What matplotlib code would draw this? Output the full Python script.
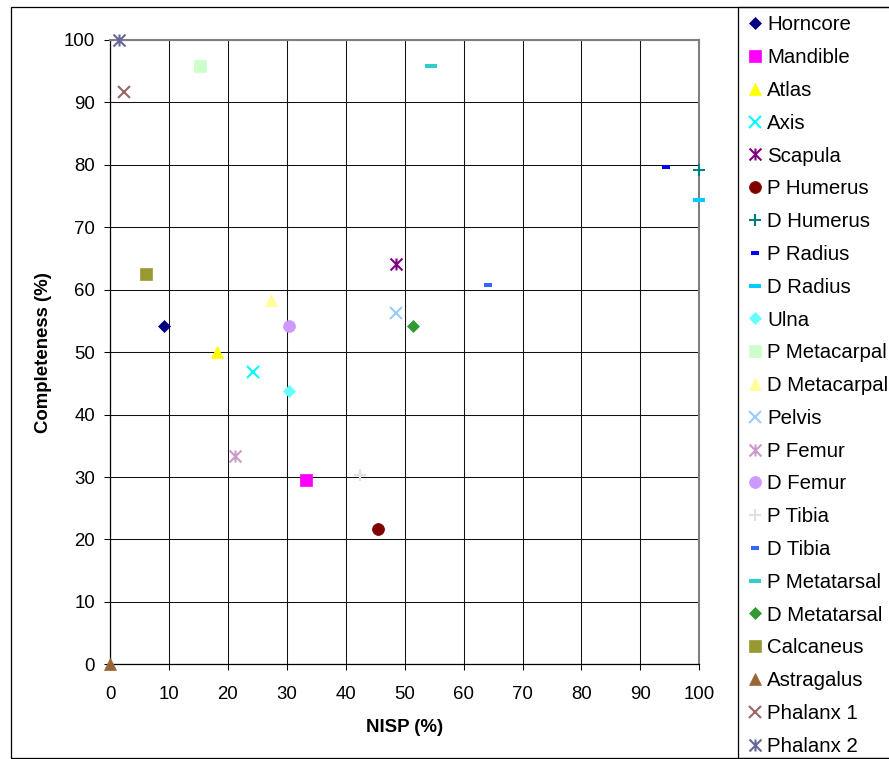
import matplotlib
matplotlib.use("Agg")
import matplotlib.pyplot as plt
from matplotlib.path import Path
from matplotlib.patches import Rectangle

# skeletal elements: NISP share vs completeness
elements = ["Horncore", "Mandible", "Atlas", "Axis", "Scapula", "P Humerus",
            "D Humerus", "P Radius", "D Radius", "Ulna", "P Metacarpal",
            "D Metacarpal", "Pelvis", "P Femur", "D Femur", "P Tibia",
            "D Tibia", "P Metatarsal", "D Metatarsal", "Calcaneus",
            "Astragalus", "Phalanx 1", "Phalanx 2"]
nisp = [9.1, 33.3, 18.2, 24.3, 48.5, 45.5, 100, 94.3, 100, 30.3, 15.2,
        27.3, 48.5, 21.2, 30.3, 42.4, 64.1, 54.5, 51.5, 6.1, 0, 2.3, 1.6]
completeness = [54.2, 29.5, 50.0, 46.9, 64.1, 21.6, 79.2, 79.6, 74.3, 43.8,
                95.8, 58.3, 56.3, 33.3, 54.2, 30.4, 60.8, 95.8, 54.2, 62.5,
                0, 91.7, 100]

# excel style asterisk: x plus a vertical bar
star = Path([(-0.5, -0.5), (0.5, 0.5), (-0.5, 0.5), (0.5, -0.5),
             (0, -0.5), (0, 0.5)],
            [Path.MOVETO, Path.LINETO] * 3)

colors = ["#000080", "#FF00FF", "#FFFF00", "#00FFFF", "#800080", "#800000",
          "#008080", "#0000FF", "#00CCFF", "#66FFFF", "#CCFFCC", "#FFFF99",
          "#99CCFF", "#CC99CC", "#CC99FF", "#E0E0E0", "#3366FF", "#33CCCC",
          "#339933", "#999933", "#996633", "#996666", "#666699"]
markers = ["D", "s", "^", "x", star, "o", "+", "_", "_", "D", "s", "^",
           "x", star, "o", "+", "_", "_", "D", "s", "^", "x", star]
sizes = [6.4, 8.6, 9.0, 9.0, 8.6, 8.6, 9.2, 5.8, 9.0, 6.4, 8.6, 9.0,
         9.0, 8.6, 8.6, 9.0, 5.8, 9.0, 6.4, 8.6, 9.0, 9.0, 8.6]

plt.rcParams["font.family"] = ["Liberation Sans", "DejaVu Sans"]

fig = plt.figure(figsize=(8.89, 7.59), dpi=100)
ax = fig.add_axes([110 / 889, 1 - 664.3 / 759, 589.3 / 889, 624.3 / 759])

for name, x, y, c, m, s in zip(elements, nisp, completeness, colors, markers, sizes):
    filled = m in ("D", "s", "^", "o")
    if filled:
        ax.plot(x, y, linestyle="none", marker=m, ms=s, mfc=c, mec=c,
                mew=0.5, label=name, clip_on=False, zorder=3)
    else:
        mew = 2.9 if m == "_" else 1.5
        ax.plot(x, y, linestyle="none", marker=m, ms=s, color=c, mew=mew,
                label=name, clip_on=False, zorder=3)

ax.set_xlim(0, 100)
ax.set_ylim(0, 100)
ax.set_xticks(range(0, 101, 10))
ax.set_yticks(range(0, 101, 10))
ax.grid(True, color="#111111", linewidth=0.75)
ax.set_axisbelow(True)
ax.tick_params(direction="out", length=4.3, width=0.75, labelsize=13.4,
               colors="black")
ax.tick_params(axis="x", pad=11.5)
ax.tick_params(axis="y", pad=6.5)
for side in ("left", "bottom"):
    ax.spines[side].set_color("black")
    ax.spines[side].set_linewidth(0.9)
for side in ("top", "right"):
    ax.spines[side].set_color("#808080")
    ax.spines[side].set_linewidth(1.5)

ax.set_xlabel("NISP (%)", fontsize=13.4, fontweight="bold", va="center")
ax.set_ylabel("Completeness (%)", fontsize=13.4, fontweight="bold", va="center")
ax.xaxis.set_label_coords(0.5, (664.3 - 727) / 624.3)
ax.yaxis.set_label_coords((44 - 110) / 589.3, 0.5)

# chart border and legend box
fig.add_artist(Rectangle((11 / 889, 1 - 757.5 / 759), 1.0, 750.5 / 759,
                         transform=fig.transFigure, fill=False,
                         edgecolor="black", linewidth=0.9))
fig.add_artist(Rectangle((738 / 889, 1 - 757.5 / 759), 1.0, 750.5 / 759,
                         transform=fig.transFigure, fill=False,
                         edgecolor="black", linewidth=0.9))

handles, labels = ax.get_legend_handles_labels()
fig.legend(handles, labels, loc="upper left",
           bbox_to_anchor=(749 / 889, 1 - 15.5 / 759), borderaxespad=0,
           borderpad=0, frameon=False, fontsize=14.7, handlelength=0.6,
           handletextpad=0.3, labelspacing=0.675, numpoints=1)

fig.savefig("out.png", dpi=100)
